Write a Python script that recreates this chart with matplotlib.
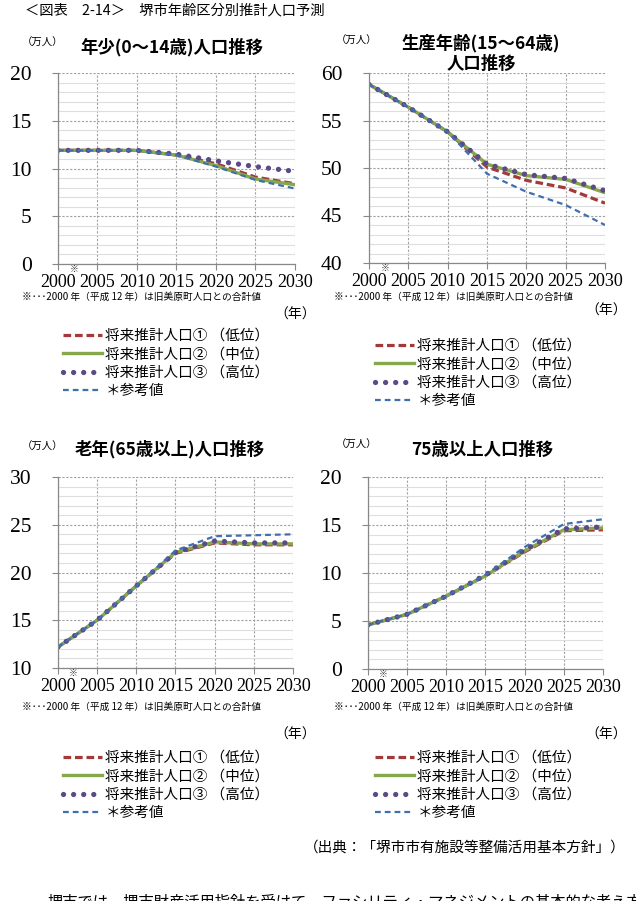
import matplotlib
matplotlib.use("Agg")
import matplotlib.pyplot as plt
from matplotlib.ticker import MultipleLocator

JP = ['Noto Sans CJK JP', 'DejaVu Sans']
# serif digits on the axes, CJK font named on every Japanese text
plt.rcParams['font.family'] = ['Liberation Serif', 'Noto Sans CJK JP']

# --- data (万人) ---
years = [2000, 2005, 2010, 2015, 2020, 2025, 2030]

young_low = [11.9, 11.9, 11.9, 11.4, 10.5, 9.1, 8.4]
young_mid = [11.9, 11.9, 11.9, 11.4, 10.3, 8.9, 8.3]
young_high = [11.9, 11.9, 11.9, 11.5, 10.8, 10.2, 9.7]
young_ref = [11.9, 11.9, 11.9, 11.4, 10.2, 8.8, 7.9]

work_low = [58.8, 56.4, 53.8, 50.1, 48.7, 47.9, 46.3]
work_mid = [58.8, 56.4, 53.8, 50.4, 49.2, 48.8, 47.4]
work_high = [58.8, 56.4, 53.8, 50.4, 49.3, 48.9, 47.6]
work_ref = [58.8, 56.4, 53.8, 49.4, 47.5, 46.1, 44.0]

old_low = [12.2, 15.0, 18.6, 22.0, 23.1, 22.9, 22.9]
old_mid = [12.2, 15.0, 18.6, 22.1, 23.2, 23.0, 23.0]
old_high = [12.2, 15.0, 18.6, 22.1, 23.3, 23.1, 23.1]
old_ref = [12.2, 15.0, 18.6, 22.3, 23.8, 23.9, 24.0]

o75_low = [4.6, 5.7, 7.6, 9.7, 12.2, 14.4, 14.5]
o75_mid = [4.6, 5.7, 7.6, 9.7, 12.3, 14.5, 14.7]
o75_high = [4.6, 5.7, 7.6, 9.8, 12.4, 14.6, 14.8]
o75_ref = [4.6, 5.7, 7.6, 9.8, 12.7, 15.1, 15.6]

labels = ["将来推計人口① （低位）", "将来推計人口② （中位）",
          "将来推計人口③ （高位）", "＊参考値"]

note = "※･･･2000 年（平成 12 年）は旧美原町人口との合計値"

# line looks, in the same order as labels
styles = [
    dict(color="#A33A3A", lw=2.3, ls=(0, (2.4, 1.2))),
    dict(color="#86A84A", lw=2.4, ls="-"),
    dict(color="#5B4A86", lw=3.8, ls=(0, (0.01, 1.9)), dash_capstyle="round"),
    dict(color="#3F6FAF", lw=1.6, ls=(0, (2.6, 1.8))),
]

W, H = 636, 901
fig = plt.figure(figsize=(W / 100, H / 100), dpi=100)


def fx(x):
    return x / W


def fy(y):
    return 1 - y / H


def jtext(x, y, s, **kw):
    kw.setdefault("va", "center")
    fig.text(fx(x), fy(y), s, family=JP, **kw)


def panel(x0, y0, x1, y1, ymin, ymax, series):
    ax = fig.add_axes([fx(x0), fy(y1), (x1 - x0) / W, (y1 - y0) / H])
    lines = []
    for vals, st in zip(series, styles):
        ln, = ax.plot(years, vals, **st)
        lines.append(ln)
    ax.set_xlim(2000, 2030)
    ax.set_ylim(ymin, ymax)
    ax.set_xticks(years)
    ax.yaxis.set_major_locator(MultipleLocator(5))
    ax.yaxis.set_minor_locator(MultipleLocator(1))
    ax.set_axisbelow(True)
    ax.grid(which="major", ls=(0, (2, 1.5)), color="#a0a0a0", lw=0.8)
    ax.grid(which="minor", axis="y", ls="-", color="#dedede", lw=0.8)
    ax.tick_params(which="minor", length=0)
    ax.tick_params(which="major", direction="out", length=4, width=0.8, color="#888888")
    ax.tick_params(axis="y", pad=15, labelsize=15.5)
    ax.tick_params(axis="x", pad=3, labelsize=13)
    for s in ("top", "right"):
        ax.spines[s].set_visible(False)
    for s in ("left", "bottom"):
        ax.spines[s].set_color("#888888")
        ax.spines[s].set_linewidth(0.9)
    ax.annotate("※", xy=(2002.0, 0), xycoords=("data", "axes fraction"),
                xytext=(0, -1), textcoords="offset points",
                ha="center", va="top", fontsize=6.5, color="#333333",
                family=JP, annotation_clip=False)
    return lines


def legend(lines, x, y):
    fig.legend(lines, labels, loc="upper left", bbox_to_anchor=(fx(x), fy(y)),
               frameon=False, prop={"family": JP, "size": 10.5},
               handlelength=2.7, handletextpad=0.2,
               labelspacing=0.3, borderaxespad=0, borderpad=0)


jtext(25, 10, "＜図表　2-14＞　堺市年齢区分別推計人口予測", fontsize=10.3)

# top left
ln = panel(58, 73, 295, 264, 0, 20, [young_low, young_mid, young_high, young_ref])
jtext(22, 43, "（万人）", fontsize=7.5)
jtext(172, 47, "年少(0～14歳)人口推移", fontsize=12.5, weight="bold", ha="center")
jtext(22, 297, note, fontsize=7)
jtext(316, 315, "（年）", fontsize=10, ha="right")
legend(ln, 63, 329)

# top right
ln = panel(369, 73, 605, 263, 40, 60, [work_low, work_mid, work_high, work_ref])
jtext(336, 41, "（万人）", fontsize=7.5)
jtext(481, 43, "生産年齢(15～64歳)", fontsize=12.5, weight="bold", ha="center")
jtext(481, 64, "人口推移", fontsize=12.5, weight="bold", ha="center")
jtext(334, 297, note, fontsize=7)
jtext(627, 311, "（年）", fontsize=10, ha="right")
legend(ln, 375, 339)

# bottom left
ln = panel(58, 477, 293, 668, 10, 30, [old_low, old_mid, old_high, old_ref])
jtext(22, 447, "（万人）", fontsize=7.5)
jtext(170, 449, "老年(65歳以上)人口推移", fontsize=12.5, weight="bold", ha="center")
jtext(22, 707, note, fontsize=7)
jtext(316, 735, "（年）", fontsize=10, ha="right")
legend(ln, 63, 751)

# bottom right
ln = panel(368, 477, 603, 669, 0, 20, [o75_low, o75_mid, o75_high, o75_ref])
jtext(336, 445, "（万人）", fontsize=7.5)
jtext(482, 450, "75歳以上人口推移", fontsize=12.5, weight="bold", ha="center")
jtext(334, 707, note, fontsize=7)
jtext(627, 735, "（年）", fontsize=10, ha="right")
legend(ln, 375, 751)

jtext(626, 848, "（出典：「堺市市有施設等整備活用基本方針」）", fontsize=10.5, ha="right")
# body text that runs off the bottom edge in the reference
jtext(48, 894, "堺市では、堺市財産活用指針を受けて、ファシリティ・マネジメントの基本的な考え方",
      fontsize=11, va="top")

fig.savefig("out.png", dpi=100)
